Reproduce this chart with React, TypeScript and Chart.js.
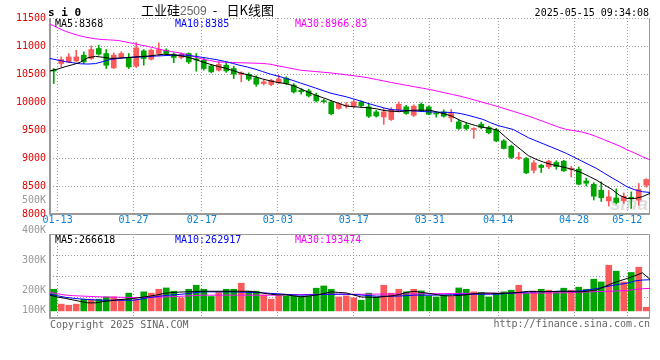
import React, { useEffect, useRef } from 'react';
import { Chart, registerables } from 'chart.js';
Chart.register(...registerables);

// ---------- data ----------
const dates = [
  '01-10','01-13','01-14','01-15','01-16','01-17','01-20','01-21','01-22','01-23',
  '01-24','01-27','02-05','02-06','02-07','02-10','02-11','02-12','02-13','02-14',
  '02-17','02-18','02-19','02-20','02-21','02-24','02-25','02-26','02-27','02-28',
  '03-03','03-04','03-05','03-06','03-07','03-10','03-11','03-12','03-13','03-14',
  '03-17','03-18','03-19','03-20','03-21','03-24','03-25','03-26','03-27','03-28',
  '03-31','04-01','04-02','04-03','04-07','04-08','04-09','04-10','04-11','04-14',
  '04-15','04-16','04-17','04-18','04-21','04-22','04-23','04-24','04-25','04-28',
  '04-29','04-30','05-06','05-07','05-08','05-09','05-12','05-13','05-14','05-15',
];
const dateTicks = ['01-13','01-27','02-17','03-03','03-17','03-31','04-14','04-28','05-12'];

const open = [
  10560,10687,10716,10734,10836,10777,10955,10866,10609,10795,
  10795,10639,10913,10764,10866,10925,10854,10795,10866,10766,
  10746,10645,10568,10657,10598,10491,10496,10430,10330,10312,
  10341,10424,10300,10211,10198,10121,10020,10000,9884,9930,
  9925,10000,9913,9823,9734,9687,9854,9913,9764,9960,
  9913,9795,9823,9716,9645,9586,9510,9603,9545,9497,
  9306,9211,8995,8990,8782,8870,8841,8920,8943,8800,
  8800,8590,8532,8425,8234,8287,8234,8300,8246,8514,
];
const high = [
  10598,10805,10866,10925,10895,11002,11014,10937,10877,10896,
  10866,11062,10937,10948,11056,10950,10877,10877,10877,10866,
  10795,10670,10716,10700,10640,10540,10520,10470,10395,10407,
  10478,10450,10330,10240,10230,10160,10050,10020,9990,9990,
  10030,10020,9960,9850,9885,9900,10002,9940,9950,9984,
  9930,9810,9860,9866,9680,9620,9540,9640,9570,9530,
  9330,9230,9100,9010,8955,8890,8960,8950,8960,8850,
  8840,8640,8560,8575,8420,8450,8377,8395,8545,8630,
];
const low = [
  10330,10627,10700,10720,10687,10759,10836,10598,10598,10780,
  10598,10616,10657,10748,10836,10840,10702,10770,10687,10550,
  10568,10520,10550,10530,10420,10359,10380,10280,10305,10290,
  10330,10310,10160,10140,10090,10000,9980,9770,9870,9890,
  9900,9902,9723,9730,9603,9670,9823,9780,9740,9830,
  9770,9730,9730,9645,9510,9500,9350,9520,9430,9290,
  9160,8990,8970,8720,8730,8740,8810,8800,8760,8660,
  8520,8500,8250,8225,8140,8180,8188,8098,8157,8480,
];
const close = [
  10552,10759,10805,10805,10716,10937,10854,10657,10836,10866,
  10627,10966,10777,10925,10937,10866,10795,10854,10716,10752,
  10598,10538,10670,10555,10496,10520,10407,10318,10359,10389,
  10407,10330,10180,10185,10109,10020,10005,9790,9974,9945,
  10002,9935,9746,9750,9823,9866,9960,9795,9925,9840,
  9782,9785,9746,9795,9527,9527,9525,9545,9450,9306,
  9170,9010,9010,8734,8913,8830,8943,8845,8770,8815,
  8532,8550,8318,8290,8307,8205,8318,8270,8437,8616,
];
const priceMA5 = [
  10555,10588,10630,10667,10710,10792,10815,10798,10778,10784,
  10790,10801,10811,10821,10838,10853,10843,10829,10805,10766,
  10719,10677,10639,10607,10565,10521,10487,10451,10411,10376,
  10349,10329,10295,10236,10175,10120,10074,10025,9977,9928,
  9915,9906,9896,9878,9848,9836,9828,9843,9854,9854,
  9854,9821,9787,9742,9671,9622,9581,9548,9526,9494,
  9372,9259,9150,9041,8977,8925,8885,8857,8824,8785,
  8737,8670,8602,8518,8439,8332,8277,8277,8310,8368,
];
const priceMA10 = [
  10777,10749,10721,10701,10682,10678,10686,10722,10761,10777,
  10793,10800,10806,10814,10821,10828,10834,10836,10836,10818,
  10799,10777,10755,10725,10691,10655,10624,10587,10543,10498,
  10462,10424,10384,10338,10293,10247,10201,10156,10124,10093,
  10053,10013,9970,9931,9893,9863,9855,9847,9839,9831,
  9823,9819,9816,9813,9796,9764,9727,9690,9630,9579,
  9544,9509,9436,9362,9305,9251,9195,9140,9081,9014,
  8946,8879,8811,8727,8646,8567,8485,8433,8398,8385,
];
const priceMA30 = [
  11389,11327,11264,11219,11179,11150,11128,11114,11108,11098,
  11071,11044,11016,10989,10957,10925,10901,10878,10848,10807,
  10770,10742,10716,10710,10706,10701,10697,10693,10689,10674,
  10646,10620,10593,10567,10555,10543,10531,10518,10502,10485,
  10469,10452,10428,10401,10374,10347,10321,10297,10272,10248,
  10224,10194,10164,10134,10104,10069,10031,9993,9956,9917,
  9875,9833,9791,9748,9700,9650,9600,9549,9510,9488,
  9465,9428,9380,9324,9269,9213,9147,9087,9024,8967,
];
const volume = [
  183000,57000,48000,57000,99000,99000,99000,118000,118000,99000,
  150000,99000,161000,150000,183000,194000,167000,110000,183000,217000,
  183000,122000,156000,183000,183000,234000,167000,167000,133000,99000,
  127000,127000,127000,122000,127000,192000,211000,183000,118000,127000,
  110000,90000,150000,118000,217000,150000,183000,161000,183000,169000,
  127000,118000,133000,122000,194000,183000,161000,156000,118000,150000,
  161000,175000,217000,150000,167000,183000,175000,156000,192000,175000,
  200000,183000,268000,245000,386000,336000,245000,325000,369000,31000,
];
const volMA5 = [
  133,117,106,93,80,68,68,79,86,95,
  99,105,114,123,134,148,155,159,161,164,
  166,166,166,166,166,166,166,161,151,142,
  135,137,128,119,125,133,146,161,156,152,
  134,118,116,114,121,127,138,158,165,156,
  147,137,127,128,131,138,147,151,150,147,
  150,152,158,165,165,162,163,165,165,162,
  161,169,177,205,232,254,274,297,322,267,
].map(v => v * 1000);
const volMA10 = [
  141,128,115,107,101,96,93,90,90,90,
  90,90,100,112,121,129,135,139,145,154,
  161,161,161,161,161,159,157,156,153,148,
  145,140,136,133,135,137,139,141,141,141,
  138,134,129,125,124,124,126,129,133,133,
  133,134,135,137,140,141,141,141,141,142,
  147,152,156,160,161,163,164,166,166,166,
  169,179,189,202,215,225,234,253,261,263,
].map(v => v * 1000);
const volMA30 = [
  155,145,134,129,126,123,120,118,117,116,
  114,113,113,113,116,118,120,123,126,130,
  133,133,133,133,133,133,133,133,133,133,
  133,136,137,138,139,140,140,141,141,141,
  141,141,141,142,142,143,143,144,144,145,
  145,146,146,147,147,148,148,149,149,150,
  149,150,150,151,151,151,152,152,153,156,
  159,161,163,165,166,170,173,181,188,190,
].map(v => v * 1000);

const priceLegend = ['MA5:8368', 'MA10:8385', 'MA30:8966.83'];
const volLegend = ['MA5:266618', 'MA10:262917', 'MA30:193474'];
const volAxisLabels = ['500K', '400K', '300K', '200K', '100K'];
const symbolText = 's i 0';
const titleMain = '工业硅';
const titleCode = '2509';
const titleDash = '-';
const titleRest = '日K线图';
const timeText = '2025-05-15 09:34:08';
const copyrightText = 'Copyright 2025 SINA.COM';
const urlText = 'http://finance.sina.com.cn';
const watermarkText = 'sina';

const PRICE_MIN = 8000;
const PRICE_MAX = 11500;
const PRICE_STEP = 500;
const VOL_MIN = -60000;
const VOL_MAX = 650000;

// ---------- styles ----------
const MONO = '"DejaVu Sans Mono", monospace';
const CJK = '"Noto Sans CJK SC", sans-serif';
const RED = '#fa5a5a';
const GREEN = '#00a400';
const GRID = '#999999';
const FRAME = '#9a9a9a';
const LINE_COLORS = ['#000000', '#0000ff', '#ff00ff'];

const candleColors = close.map((c, i) => (c >= open[i] ? RED : GREEN));
const tickIdx = dateTicks.map(d => dates.indexOf(d));
const lastIdx = dates.length - 1;

const makeFrame = (withTop: boolean) => ({
  id: withTop ? 'frameFull' : 'frameOpen',
  beforeDatasetsDraw(chart: any) {
    const { ctx, chartArea: a } = chart;
    ctx.save();
    ctx.strokeStyle = FRAME;
    ctx.setLineDash([]);
    ctx.lineWidth = 1;
    ctx.beginPath();
    if (withTop) {
      ctx.moveTo(a.left, a.top + 0.5);
      ctx.lineTo(a.right - 0.5, a.top + 0.5);
    } else {
      ctx.moveTo(a.right - 0.5, a.top);
    }
    ctx.lineTo(a.right - 0.5, a.bottom);
    ctx.stroke();
    ctx.lineWidth = 2;
    ctx.beginPath();
    ctx.moveTo(a.left, a.top);
    ctx.lineTo(a.left, a.bottom);
    ctx.lineTo(a.right, a.bottom);
    ctx.stroke();
    ctx.restore();
  },
});

const lineDs = (arr: number[], color: string, yId: string) => ({
  type: 'line' as const,
  data: arr.map((v, i) => ({ x: i, y: v })),
  xAxisID: 'xl',
  yAxisID: yId,
  borderColor: color,
  borderWidth: 1,
  pointRadius: 0,
  tension: 0,
  order: 0,
});

const pricePlugin = {
  id: 'priceText',
  beforeDatasetsDraw(chart: any) {
    const { ctx, chartArea: a } = chart;
    ctx.save();
    ctx.font = `italic bold 19px "Liberation Sans"`;
    ctx.fillStyle = 'rgba(160,160,160,0.35)';
    ctx.textAlign = 'right';
    ctx.textBaseline = 'alphabetic';
    ctx.fillText(watermarkText, a.right - 2, a.bottom - 4);
    ctx.restore();
  },
  afterDraw(chart: any) {
    const { ctx, chartArea: a } = chart;
    ctx.save();
    ctx.textBaseline = 'alphabetic';
    ctx.font = `bold 11px ${MONO}`;
    ctx.fillStyle = '#000';
    ctx.textAlign = 'left';
    ctx.fillText(symbolText, 48, 16);
    // title
    let x = 141;
    ctx.font = `13px ${CJK}`;
    ctx.fillStyle = '#000';
    ctx.fillText(titleMain, x, 15);
    x += ctx.measureText(titleMain).width;
    ctx.font = '12px "Liberation Sans"';
    ctx.fillStyle = '#666';
    ctx.fillText(titleCode, x, 15);
    ctx.font = `13px ${CJK}`;
    ctx.fillStyle = '#000';
    ctx.textAlign = 'center';
    ctx.fillText(titleDash, 215, 15);
    ctx.textAlign = 'right';
    ctx.fillText(titleRest, 274, 15);
    // time
    ctx.font = `10px ${MONO}`;
    ctx.textAlign = 'right';
    ctx.fillText(timeText, a.right - 1, 16);
    // legend
    ctx.textAlign = 'left';
    const lx = [a.left + 5, a.left + 125, a.left + 245];
    priceLegend.forEach((t, i) => {
      ctx.fillStyle = LINE_COLORS[i];
      ctx.fillText(t, lx[i], a.top + 9);
    });
    ctx.restore();
  },
};

const volPlugin = {
  id: 'volText',
  afterDraw(chart: any) {
    const { ctx, chartArea: a } = chart;
    ctx.save();
    ctx.font = `10px ${MONO}`;
    ctx.textBaseline = 'middle';
    ctx.textAlign = 'right';
    ctx.fillStyle = '#999';
    volAxisLabels.forEach((t, i) => {
      const y = Math.min(200 + i * 30, 310);
      ctx.fillText(t, a.left - 4, y);
    });
    ctx.textBaseline = 'alphabetic';
    ctx.textAlign = 'left';
    const lx = [a.left + 5, a.left + 125, a.left + 245];
    volLegend.forEach((t, i) => {
      ctx.fillStyle = LINE_COLORS[i];
      ctx.fillText(t, lx[i], a.top + 9);
    });
    ctx.fillStyle = '#666';
    ctx.fillText(copyrightText, a.left, a.bottom + 10);
    ctx.textAlign = 'right';
    ctx.fillText(urlText, a.right, a.bottom + 9);
    ctx.restore();
  },
};

const xlScale = (showLabels: boolean) => ({
  type: 'linear' as const,
  position: 'bottom' as const,
  min: 0,
  max: lastIdx,
  offset: false,
  afterBuildTicks: (s: any) => {
    s.ticks = tickIdx.map(v => ({ value: v }));
  },
  afterFit: (s: any) => {
    s.height = showLabels ? 12 : 0;
  },
  ticks: {
    display: showLabels,
    autoSkip: false,
    maxRotation: 0,
    padding: 0,
    color: '#0a82d8',
    font: { family: MONO, size: 10 },
    callback: (v: any) => dates[v as number],
  },
  grid: { color: GRID, drawTicks: false, lineWidth: 1, offset: false },
  border: { display: false, dash: [1, 2] },
});

export default function App() {
  const priceRef = useRef<HTMLCanvasElement>(null);
  const volRef = useRef<HTMLCanvasElement>(null);

  useEffect(() => {
    const priceChart = new Chart(priceRef.current as HTMLCanvasElement, {
      type: 'bar',
      data: {
        labels: dates,
        datasets: [
          lineDs(priceMA5, LINE_COLORS[0], 'y'),
          lineDs(priceMA10, LINE_COLORS[1], 'y'),
          lineDs(priceMA30, LINE_COLORS[2], 'y'),
          {
            type: 'bar',
            data: dates.map((_, i) => [low[i], high[i]]),
            backgroundColor: candleColors,
            barThickness: 1,
            grouped: false,
            xAxisID: 'x',
            yAxisID: 'y',
            order: 3,
          },
          {
            type: 'bar',
            data: dates.map((_, i) => [open[i], close[i]]),
            backgroundColor: candleColors,
            barThickness: 5,
            minBarLength: 1,
            grouped: false,
            xAxisID: 'x',
            yAxisID: 'y',
            order: 2,
          },
        ] as any,
      },
      options: {
        responsive: false,
        animation: false,
        events: [],
        layout: { padding: { left: 0, right: 10, top: 18, bottom: 134 } },
        plugins: { legend: { display: false }, tooltip: { enabled: false } },
        scales: {
          x: { type: 'category', display: false, offset: true },
          xl: xlScale(true) as any,
          y: {
            type: 'linear',
            min: PRICE_MIN,
            max: PRICE_MAX,
            afterFit: (s: any) => {
              s.width = 50;
            },
            ticks: {
              stepSize: PRICE_STEP,
              color: '#e00000',
              padding: 4,
              font: { family: MONO, size: 10 },
              callback: (v: any) => String(v),
            },
            grid: { color: GRID, drawTicks: false, lineWidth: 1 },
            border: { display: false, dash: [1, 2] },
          },
        },
      },
      plugins: [makeFrame(false), pricePlugin],
    });

    const volChart = new Chart(volRef.current as HTMLCanvasElement, {
      type: 'bar',
      data: {
        labels: dates,
        datasets: [
          lineDs(volMA5, LINE_COLORS[0], 'y'),
          lineDs(volMA10, LINE_COLORS[1], 'y'),
          lineDs(volMA30, LINE_COLORS[2], 'y'),
          {
            type: 'bar',
            data: volume,
            backgroundColor: candleColors,
            barThickness: 6,
            grouped: false,
            xAxisID: 'x',
            yAxisID: 'y',
            order: 2,
          },
        ] as any,
      },
      options: {
        responsive: false,
        animation: false,
        events: [],
        layout: { padding: { left: 0, right: 10, top: 234, bottom: 42 } },
        plugins: { legend: { display: false }, tooltip: { enabled: false } },
        scales: {
          x: { type: 'category', display: false, offset: true },
          xl: xlScale(false) as any,
          y: {
            type: 'linear',
            min: VOL_MIN,
            max: VOL_MAX,
            afterFit: (s: any) => {
              s.width = 50;
            },
            afterBuildTicks: (s: any) => {
              const step = (VOL_MAX - VOL_MIN) / 4;
              s.ticks = [1, 2, 3].map(k => ({ value: VOL_MIN + k * step }));
            },
            ticks: { display: false },
            grid: { color: GRID, drawTicks: false, lineWidth: 1 },
            border: { display: false, dash: [1, 2] },
          },
        },
      },
      plugins: [makeFrame(true), volPlugin],
    });

    return () => {
      priceChart.destroy();
      volChart.destroy();
    };
  }, []);

  return (
    <div style={{ position: 'fixed', left: 0, top: 0, width: 660, height: 360, background: '#fff' }}>
      <canvas ref={priceRef} width={660} height={360} style={{ position: 'absolute', left: 0, top: 0 }} />
      <canvas ref={volRef} width={660} height={360} style={{ position: 'absolute', left: 0, top: 0 }} />
    </div>
  );
}
